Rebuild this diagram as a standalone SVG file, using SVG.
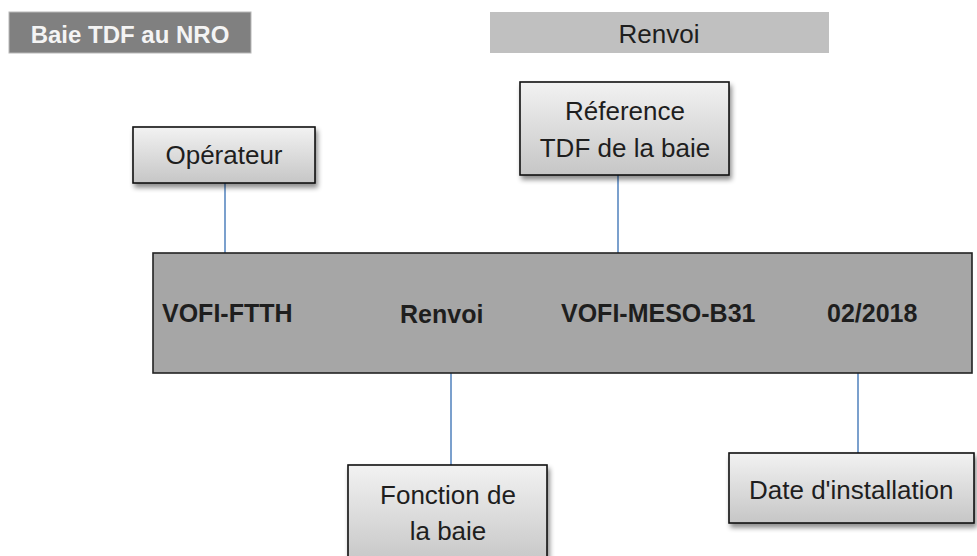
<svg xmlns="http://www.w3.org/2000/svg" width="977" height="556" viewBox="0 0 977 556">
<style>
.t{font-family:"Liberation Sans",Arial,sans-serif;fill:#1e1e1e}
.r{font-size:26px}
.b{font-size:25px;font-weight:bold}
.box{fill:url(#g);stroke:#111;stroke-width:1.6;filter:url(#sh)}
.c{stroke:#4f81bd;stroke-width:1.5;fill:none}
</style>
<defs>
<linearGradient id="g" x1="0" y1="0" x2="0" y2="1">
<stop offset="0" stop-color="#f2f2f2"/>
<stop offset="1" stop-color="#c6c6c6"/>
</linearGradient>
<filter id="sh" x="-10%" y="-10%" width="125%" height="140%">
<feGaussianBlur in="SourceAlpha" stdDeviation="2.5"/>
<feOffset dx="2" dy="4" result="o"/>
<feComponentTransfer><feFuncA type="linear" slope="0.45"/></feComponentTransfer>
<feMerge><feMergeNode/><feMergeNode in="SourceGraphic"/></feMerge>
</filter>
</defs>
<g id="title">
<rect x="9" y="12" width="242" height="41" fill="#808080" stroke="#b8b8b8" stroke-width="1"/>
<text class="t b" x="130" y="43" text-anchor="middle" style="fill:#f4f4f4;font-size:24px">Baie TDF au NRO</text>
</g>
<g id="header-renvoi">
<rect x="490" y="12" width="339" height="41" fill="#c0c0c0"/>
<text class="t r" x="659" y="43" text-anchor="middle">Renvoi</text>
</g>
<g id="connectors">
<line class="c" x1="225" y1="183" x2="225" y2="259"/>
<line class="c" x1="618" y1="175" x2="618" y2="259"/>
<line class="c" x1="451" y1="373" x2="451" y2="465"/>
<line class="c" x1="858" y1="373" x2="858" y2="453"/>
</g>
<g id="main">
<rect x="153" y="253" width="819" height="120" fill="#a6a6a6" stroke="#222" stroke-width="1.6"/>
<text class="t b" x="162" y="322">VOFI-FTTH</text>
<text class="t b" x="400" y="323">Renvoi</text>
<text class="t b" x="561" y="322">VOFI-MESO-B31</text>
<text class="t b" x="827" y="322">02/2018</text>
</g>
<g id="operateur">
<rect class="box" x="133" y="127" width="182" height="56"/>
<text class="t r" x="224" y="164" text-anchor="middle">Opérateur</text>
</g>
<g id="reference">
<rect class="box" x="520" y="82" width="209" height="93"/>
<text class="t r" x="625" y="120" text-anchor="middle">Réference</text>
<text class="t r" x="625" y="157" text-anchor="middle">TDF de la baie</text>
</g>
<g id="fonction">
<rect class="box" x="348" y="465" width="199" height="100"/>
<text class="t r" x="448" y="504" text-anchor="middle">Fonction de</text>
<text class="t r" x="448" y="540" text-anchor="middle">la baie</text>
</g>
<g id="date">
<rect class="box" x="729" y="453" width="245" height="70"/>
<text class="t r" x="749" y="499">Date d'installation</text>
</g>
</svg>
